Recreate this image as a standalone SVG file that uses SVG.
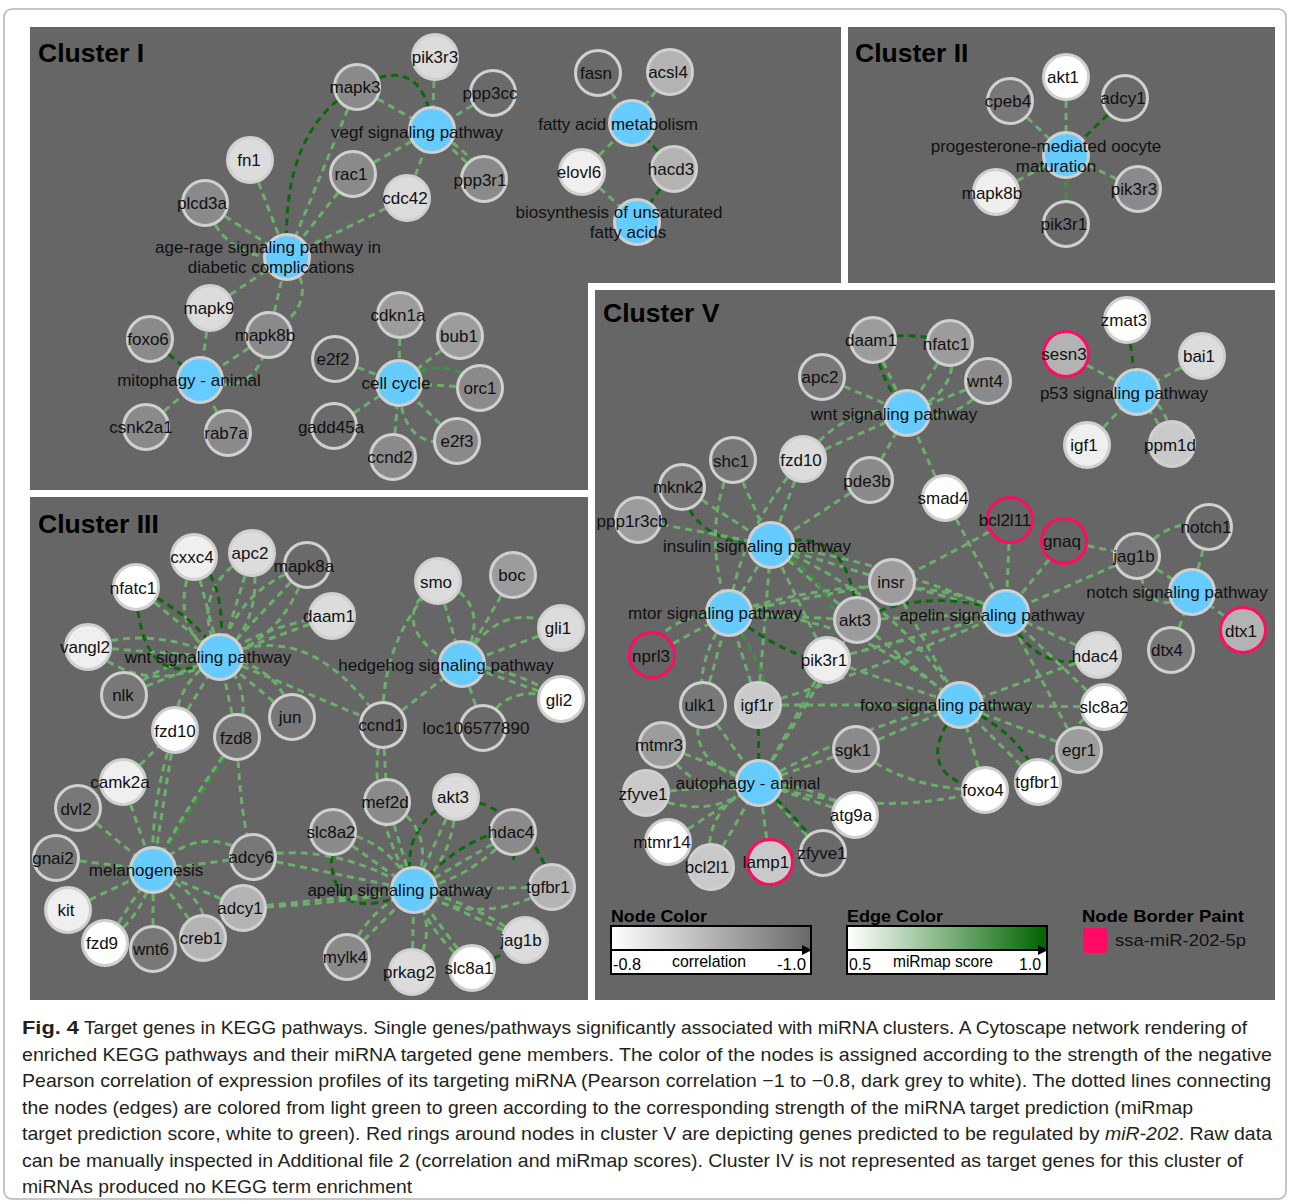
<svg xmlns="http://www.w3.org/2000/svg" width="1290" height="1204" viewBox="0 0 1290 1204">
<defs>
<style>
.panel{fill:#666666}
.title{font-family:'Liberation Sans',Arial,sans-serif;font-weight:bold;font-size:26.5px;fill:#000}
.node circle{stroke:#d0d0d0;stroke-width:3}
.node.red circle{stroke:#ff0a64;stroke-width:3}
.node text{font-family:'Liberation Sans',Arial,sans-serif;font-size:17px;text-anchor:middle;fill:#111}
.pw{fill:#66ccff}
.g0{fill:#ffffff}.g1{fill:#efefef}.g2{fill:#dcdcdc}.g3{fill:#c9c9c9}.g4{fill:#b3b3b3}.g5{fill:#9c9c9c}.g6{fill:#8a8a8a}.g7{fill:#787878}.g8{fill:#6a6a6a}.gd{fill:#666666}
#edges path{fill:none;stroke-width:3;stroke-dasharray:7 5}
#edges .l{stroke:#6cae6c}
#edges .m{stroke:#3f923f}
#edges .d{stroke:#0a6a0a}
.cap{font-family:'Liberation Sans',Arial,sans-serif;font-size:19px;fill:#231f20}
.lg{font-family:'Liberation Sans',Arial,sans-serif;fill:#000}
</style>
<linearGradient id="gradGray" x1="0" y1="0" x2="1" y2="0"><stop offset="0" stop-color="#ffffff"/><stop offset="1" stop-color="#6a6a6a"/></linearGradient>
<linearGradient id="gradGreen" x1="0" y1="0" x2="1" y2="0"><stop offset="0" stop-color="#ffffff"/><stop offset="1" stop-color="#006400"/></linearGradient>
<marker id="arr" markerWidth="10" markerHeight="10" refX="8" refY="5" orient="auto" markerUnits="userSpaceOnUse"><path d="M0,0L10,5L0,10Z" fill="#000"/></marker>
</defs>
<rect x="0" y="0" width="1290" height="1204" fill="#ffffff"/>
<rect x="4" y="9" width="1282" height="1190" rx="8" fill="#ffffff" stroke="#b4b4b4" stroke-width="1.5"/>
<g id="panels">
<rect class="panel" x="30" y="27" width="811" height="463"/>
<rect class="panel" x="848" y="27" width="427" height="256"/>
<rect class="panel" x="30" y="497" width="558" height="503"/>
<rect x="588" y="283" width="694" height="717" fill="#ffffff"/>
<rect class="panel" x="595" y="290" width="680" height="710"/>
<text class="title" x="38" y="62">Cluster I</text>
<text class="title" x="855" y="62">Cluster II</text>
<text class="title" x="38" y="533">Cluster III</text>
<text class="title" x="603" y="322">Cluster V</text>
</g>
<g id="edges">
<!-- Cluster I -->
<path class="l" d="M435,57L432,130"/>
<path class="d" d="M357,87Q425,50 432,130"/>
<path class="l" d="M357,87L432,130"/>
<path class="l" d="M493,93L432,130"/>
<path class="l" d="M353,174L432,130"/>
<path class="l" d="M484,179L432,130"/>
<path class="l" d="M432,130Q470,150 484,179"/>
<path class="l" d="M407,198L432,130"/>
<path class="l" d="M250,160L287,257"/>
<path class="l" d="M205,203L287,257"/>
<path class="d" d="M357,87Q280,130 287,257"/>
<path class="l" d="M357,87L287,257"/>
<path class="l" d="M353,174L287,257"/>
<path class="l" d="M407,198L287,257"/>
<path class="l" d="M210,308L287,257"/>
<path class="l" d="M269,335L287,257"/>
<path class="l" d="M287,257Q325,300 269,335"/>
<path class="l" d="M205,203Q225,262 287,257"/>
<path class="d" d="M150,339L200,380"/>
<path class="l" d="M210,308L200,380"/>
<path class="l" d="M269,335L200,380"/>
<path class="l" d="M200,380Q258,400 269,335"/>
<path class="l" d="M146,427L200,380"/>
<path class="l" d="M228,433L200,380"/>
<path class="l" d="M400,315L399,383"/>
<path class="l" d="M460,336L399,383"/>
<path class="l" d="M335,359L399,383"/>
<path class="l" d="M480,388L399,383"/>
<path class="m" d="M399,383Q445,350 480,388"/>
<path class="l" d="M334,426L399,383"/>
<path class="l" d="M393,457L399,383"/>
<path class="l" d="M457,441L399,383"/>
<path class="l" d="M399,383Q400,452 457,441"/>
<path class="l" d="M598,73L632,123"/>
<path class="l" d="M670,72L632,123"/>
<path class="l" d="M582,172L632,123"/>
<path class="d" d="M674,169L632,123"/>
<path class="l" d="M582,172L637,222"/>
<path class="d" d="M674,169L637,222"/>
<!-- Cluster II -->
<path class="l" d="M1066,77L1066,155"/>
<path class="l" d="M1010,101L1066,155"/>
<path class="d" d="M1125,98L1066,155"/>
<path class="l" d="M996,192L1066,155"/>
<path class="l" d="M1138,189L1066,155"/>
<path class="m" d="M1066,224L1066,155"/>
<!-- Cluster III wnt -->
<path class="l" d="M194,557L220,657"/>
<path class="l" d="M252,553L220,657"/>
<path class="l" d="M307,565L220,657"/>
<path class="l" d="M136,587L220,657"/>
<path class="l" d="M332,616L220,657"/>
<path class="l" d="M88,647L220,657"/>
<path class="l" d="M124,695L220,657"/>
<path class="l" d="M292,717L220,657"/>
<path class="l" d="M175,730L220,657"/>
<path class="l" d="M237,737L220,657"/>
<path class="l" d="M194,557Q165,630 220,657"/>
<path class="l" d="M252,553Q185,590 220,657"/>
<path class="l" d="M307,565Q235,590 220,657"/>
<path class="l" d="M252,553Q265,620 220,657"/>
<path class="l" d="M307,565Q285,640 220,657"/>
<path class="l" d="M332,616Q265,625 220,657"/>
<path class="l" d="M88,647Q150,625 220,657"/>
<path class="l" d="M124,695Q170,655 220,657"/>
<path class="l" d="M175,730Q175,680 220,657"/>
<path class="l" d="M237,737Q255,690 220,657"/>
<path class="l" d="M292,717Q280,665 220,657"/>
<path class="l" d="M88,647Q150,700 220,657"/>
<path class="d" d="M136,587Q140,700 220,657"/>
<path class="d" d="M136,587Q195,615 220,657"/>
<path class="d" d="M194,557Q228,580 220,657"/>
<path class="l" d="M220,657L383,725"/>
<path class="l" d="M220,657Q310,615 383,725"/>
<!-- hedgehog -->
<path class="l" d="M438,581L462,664"/>
<path class="l" d="M513,575L462,664"/>
<path class="l" d="M561,628L462,664"/>
<path class="l" d="M561,699L462,664"/>
<path class="l" d="M383,725L462,664"/>
<path class="l" d="M483,728L462,664"/>
<path class="l" d="M438,581Q385,620 445,660"/>
<path class="l" d="M438,581Q495,600 462,664"/>
<path class="l" d="M462,664Q500,595 561,628"/>
<path class="l" d="M462,664Q520,670 561,699"/>
<path class="l" d="M483,728Q505,680 561,699"/>
<path class="l" d="M383,725Q380,640 438,581"/>
<!-- melanogenesis -->
<path class="l" d="M123,782L153,870"/>
<path class="l" d="M78,808L153,870"/>
<path class="l" d="M56,858L153,870"/>
<path class="l" d="M253,857L153,870"/>
<path class="l" d="M243,908L153,870"/>
<path class="l" d="M68,910L153,870"/>
<path class="l" d="M105,943L153,870"/>
<path class="l" d="M153,949L153,870"/>
<path class="l" d="M203,938L153,870"/>
<path class="l" d="M175,730L153,870"/>
<path class="l" d="M175,730Q150,800 153,870"/>
<path class="m" d="M237,737L153,870"/>
<path class="l" d="M237,737Q190,800 153,870"/>
<path class="l" d="M237,737Q240,820 253,857"/>
<path class="l" d="M253,857Q200,820 153,870"/>
<path class="l" d="M105,943Q145,915 153,870"/>
<path class="l" d="M203,938Q215,900 153,870"/>
<path class="l" d="M123,782L175,730"/>
<!-- apelin III -->
<path class="l" d="M387,802L414,890"/>
<path class="l" d="M456,797L414,890"/>
<path class="l" d="M333,832L414,890"/>
<path class="l" d="M513,832L414,890"/>
<path class="l" d="M552,887L414,890"/>
<path class="l" d="M525,940L414,890"/>
<path class="l" d="M347,957L414,890"/>
<path class="l" d="M412,972L414,890"/>
<path class="l" d="M472,968L414,890"/>
<path class="l" d="M253,857L414,890"/>
<path class="l" d="M243,908L414,890"/>
<path class="l" d="M383,725Q362,800 414,890"/>
<path class="l" d="M383,725L387,802"/>
<path class="d" d="M456,797Q395,830 414,890"/>
<path class="d" d="M333,832Q320,935 414,890"/>
<path class="d" d="M414,890Q470,830 513,832"/>
<path class="d" d="M552,887Q535,830 513,832"/>
<path class="d" d="M472,968Q505,955 525,940"/>
<path class="d" d="M456,797Q530,810 513,860"/>
<path class="l" d="M333,832Q385,835 414,890"/>
<path class="l" d="M387,802Q440,830 414,890"/>
<path class="l" d="M456,797Q455,860 414,890"/>
<path class="l" d="M513,832Q470,880 414,890"/>
<path class="l" d="M552,887Q480,930 414,890"/>
<path class="l" d="M525,940Q470,900 414,890"/>
<path class="l" d="M347,957Q370,905 414,890"/>
<path class="l" d="M412,972Q440,930 414,890"/>
<path class="l" d="M472,968Q430,935 414,890"/>
<path class="l" d="M253,857Q330,840 414,890"/>
<path class="l" d="M243,908Q330,905 414,890"/>
<!-- Cluster V wnt -->
<path class="l" d="M873,340L907,413"/>
<path class="d" d="M873,340Q882,385 907,413"/>
<path class="d" d="M873,340Q910,330 950,343"/>
<path class="l" d="M950,343L907,413"/>
<path class="l" d="M950,343Q962,392 907,413"/>
<path class="l" d="M822,377L907,413"/>
<path class="l" d="M988,381L907,413"/>
<path class="l" d="M988,381Q960,425 907,413"/>
<path class="l" d="M803,459L907,413"/>
<path class="l" d="M803,459Q850,400 907,413"/>
<path class="l" d="M945,498L907,413"/>
<path class="l" d="M870,480L907,413"/>
<!-- p53 -->
<path class="d" d="M1127,320L1137,392"/>
<path class="l" d="M1066,354L1137,392"/>
<path class="l" d="M1202,356L1137,392"/>
<path class="l" d="M1087,445L1137,392"/>
<path class="l" d="M1172,444L1137,392"/>
<path class="l" d="M1172,444Q1168,400 1137,392"/>
<!-- insulin -->
<path class="l" d="M733,460L771,545"/>
<path class="l" d="M803,459L771,545"/>
<path class="l" d="M682,487L771,545"/>
<path class="d" d="M682,487Q692,545 771,545"/>
<path class="l" d="M638,520L771,545"/>
<path class="l" d="M870,480L771,545"/>
<path class="l" d="M892,582L771,545"/>
<path class="l" d="M857,620L771,545"/>
<path class="d" d="M771,545Q850,520 857,620"/>
<path class="l" d="M827,660L771,545"/>
<path class="l" d="M758,705L771,545"/>
<path class="l" d="M729,613L771,545"/>
<path class="l" d="M733,460Q700,530 729,613"/>
<path class="l" d="M803,459Q740,530 729,613"/>
<!-- mtor -->
<path class="l" d="M652,655L729,613"/>
<path class="l" d="M729,613Q660,615 652,655"/>
<path class="l" d="M703,705L729,613"/>
<path class="l" d="M758,705L729,613"/>
<path class="l" d="M857,620L729,613"/>
<path class="d" d="M729,613Q790,660 827,660"/>
<path class="l" d="M892,582L729,613"/>
<path class="l" d="M729,613Q695,660 703,705"/>
<!-- notch -->
<path class="l" d="M1209,527L1192,592"/>
<path class="l" d="M1137,556Q1170,515 1209,527"/>
<path class="l" d="M1137,556L1192,592"/>
<path class="l" d="M1243,630L1192,592"/>
<path class="l" d="M1171,650L1192,592"/>
<path class="l" d="M1192,592Q1145,625 1137,556"/>
<path class="l" d="M1064,541L1137,556"/>
<!-- apelin V -->
<path class="l" d="M1010,520L1006,613"/>
<path class="l" d="M1064,541L1006,613"/>
<path class="l" d="M1137,556L1006,613"/>
<path class="l" d="M945,498L1006,613"/>
<path class="l" d="M892,582L1006,613"/>
<path class="l" d="M857,620L1006,613"/>
<path class="l" d="M827,660L1006,613"/>
<path class="d" d="M1006,613Q1040,680 1098,655"/>
<path class="l" d="M1098,655L1006,613"/>
<path class="l" d="M1104,707L1006,613"/>
<path class="l" d="M1079,750L1006,613"/>
<path class="d" d="M857,620Q930,585 1006,613"/>
<path class="l" d="M1010,520Q940,560 892,582"/>
<!-- foxo -->
<path class="l" d="M857,620L960,705"/>
<path class="l" d="M827,660L960,705"/>
<path class="l" d="M856,749L960,705"/>
<path class="l" d="M758,705L960,705"/>
<path class="l" d="M892,582L960,705"/>
<path class="l" d="M1079,750L960,705"/>
<path class="l" d="M1038,782L960,705"/>
<path class="l" d="M985,790L960,705"/>
<path class="l" d="M1104,707L960,705"/>
<path class="l" d="M1098,655L960,705"/>
<path class="d" d="M960,705Q905,775 985,790"/>
<path class="d" d="M960,705Q1025,735 1038,782"/>
<path class="l" d="M856,749Q905,790 985,790"/>
<path class="l" d="M1038,782Q1070,720 1104,707"/>
<!-- autophagy -->
<path class="l" d="M703,705L759,783"/>
<path class="d" d="M758,705L759,783"/>
<path class="l" d="M662,745L759,783"/>
<path class="l" d="M646,793L759,783"/>
<path class="l" d="M668,842L759,783"/>
<path class="l" d="M711,867L759,783"/>
<path class="l" d="M770,862L759,783"/>
<path class="l" d="M823,853L759,783"/>
<path class="l" d="M855,815L759,783"/>
<path class="l" d="M827,660L759,783"/>
<path class="l" d="M857,620L759,783"/>
<path class="l" d="M856,749L759,783"/>
<path class="l" d="M759,783Q870,720 960,705"/>
<path class="l" d="M662,745Q700,805 759,783"/>
<path class="l" d="M703,705Q680,765 759,783"/>
<path class="l" d="M646,793Q705,825 759,783"/>
<path class="d" d="M759,783Q800,820 823,853"/>
<path class="l" d="M855,815Q820,785 759,783"/>
<path class="l" d="M711,867Q700,810 759,783"/>
<!-- inter-pathway -->
<path class="l" d="M771,545Q880,560 1006,613"/>
<path class="l" d="M729,613Q850,610 960,705"/>
<path class="l" d="M771,545Q900,600 960,705"/>
<path class="l" d="M729,613Q900,560 1006,613"/>
<path class="l" d="M827,660Q905,640 1006,613"/>
<path class="m" d="M771,545Q860,600 827,660"/>
<path class="l" d="M758,705Q850,680 1006,613"/>
<path class="l" d="M759,783Q880,820 985,790"/>
<path class="m" d="M729,613Q780,690 758,705"/>
</g>
<g id="nodes">
<!-- Cluster I -->
<g id="c1-pik3r3" class="node"><circle cx="435" cy="57" r="22.5" class="g2"/><text x="435" y="63">pik3r3</text></g>
<g id="c1-mapk3" class="node"><circle cx="357" cy="87" r="22.5" class="g6"/><text x="355" y="93">mapk3</text></g>
<g id="c1-ppp3cc" class="node"><circle cx="493" cy="93" r="22.5" class="g8"/><text x="490" y="99">ppp3cc</text></g>
<g id="c1-fn1" class="node"><circle cx="250" cy="160" r="22.5" class="g2"/><text x="249" y="166">fn1</text></g>
<g id="c1-rac1" class="node"><circle cx="353" cy="174" r="22.5" class="g6"/><text x="351" y="180">rac1</text></g>
<g id="c1-ppp3r1" class="node"><circle cx="484" cy="179" r="22.5" class="g6"/><text x="480" y="186">ppp3r1</text></g>
<g id="c1-cdc42" class="node"><circle cx="407" cy="198" r="22.5" class="g2"/><text x="405" y="204">cdc42</text></g>
<g id="c1-plcd3a" class="node"><circle cx="205" cy="203" r="22.5" class="g6"/><text x="202" y="209">plcd3a</text></g>
<g id="c1-mapk9" class="node"><circle cx="210" cy="308" r="22.5" class="g2"/><text x="209" y="314">mapk9</text></g>
<g id="c1-mapk8b" class="node"><circle cx="269" cy="335" r="22.5" class="g6"/><text x="265" y="341">mapk8b</text></g>
<g id="c1-foxo6" class="node"><circle cx="150" cy="339" r="22.5" class="g6"/><text x="148" y="345">foxo6</text></g>
<g id="c1-csnk2a1" class="node"><circle cx="146" cy="427" r="22.5" class="g6"/><text x="141" y="433">csnk2a1</text></g>
<g id="c1-rab7a" class="node"><circle cx="228" cy="433" r="22.5" class="g6"/><text x="226" y="439">rab7a</text></g>
<g id="c1-cdkn1a" class="node"><circle cx="400" cy="315" r="22.5" class="g5"/><text x="398" y="321">cdkn1a</text></g>
<g id="c1-bub1" class="node"><circle cx="460" cy="336" r="22.5" class="g5"/><text x="459" y="342">bub1</text></g>
<g id="c1-e2f2" class="node"><circle cx="335" cy="359" r="22.5" class="g8"/><text x="333" y="365">e2f2</text></g>
<g id="c1-orc1" class="node"><circle cx="480" cy="388" r="22.5" class="g6"/><text x="480" y="394">orc1</text></g>
<g id="c1-gadd45a" class="node"><circle cx="334" cy="426" r="22.5" class="g8"/><text x="331" y="433">gadd45a</text></g>
<g id="c1-ccnd2" class="node"><circle cx="393" cy="457" r="22.5" class="g6"/><text x="390" y="463">ccnd2</text></g>
<g id="c1-e2f3" class="node"><circle cx="457" cy="441" r="22.5" class="g6"/><text x="457" y="447">e2f3</text></g>
<g id="c1-fasn" class="node"><circle cx="598" cy="73" r="22.5" class="g8"/><text x="596" y="79">fasn</text></g>
<g id="c1-acsl4" class="node"><circle cx="670" cy="72" r="22.5" class="g4"/><text x="668" y="78">acsl4</text></g>
<g id="c1-elovl6" class="node"><circle cx="582" cy="172" r="22.5" class="g1"/><text x="579" y="178">elovl6</text></g>
<g id="c1-hacd3" class="node"><circle cx="674" cy="169" r="22.5" class="g4"/><text x="671" y="175">hacd3</text></g>
<g id="c1-vegf" class="node"><circle cx="432" cy="130" r="22.5" class="pw"/><text x="417" y="138">vegf signaling pathway</text></g>
<g id="c1-agerage" class="node"><circle cx="287" cy="257" r="22.5" class="pw"/><text x="268" y="253">age-rage signaling pathway in</text><text x="271" y="273">diabetic complications</text></g>
<g id="c1-mitophagy" class="node"><circle cx="200" cy="380" r="22.5" class="pw"/><text x="189" y="386">mitophagy - animal</text></g>
<g id="c1-cellcycle" class="node"><circle cx="399" cy="383" r="22.5" class="pw"/><text x="396" y="389">cell cycle</text></g>
<g id="c1-fam" class="node"><circle cx="632" cy="123" r="22.5" class="pw"/><text x="618" y="130">fatty acid metabolism</text></g>
<g id="c1-bio" class="node"><circle cx="637" cy="222" r="22.5" class="pw"/><text x="619" y="218">biosynthesis of unsaturated</text><text x="628" y="238">fatty acids</text></g>
<!-- Cluster II -->
<g id="c2-akt1" class="node"><circle cx="1066" cy="77" r="22.5" class="g0"/><text x="1063" y="83">akt1</text></g>
<g id="c2-cpeb4" class="node"><circle cx="1010" cy="101" r="22.5" class="g7"/><text x="1008" y="107">cpeb4</text></g>
<g id="c2-adcy1" class="node"><circle cx="1125" cy="98" r="22.5" class="g8"/><text x="1123" y="104">adcy1</text></g>
<g id="c2-mapk8b" class="node"><circle cx="996" cy="192" r="22.5" class="g1"/><text x="992" y="199">mapk8b</text></g>
<g id="c2-pik3r3" class="node"><circle cx="1138" cy="189" r="22.5" class="g6"/><text x="1134" y="195">pik3r3</text></g>
<g id="c2-pik3r1" class="node"><circle cx="1066" cy="224" r="22.5" class="g8"/><text x="1064" y="230">pik3r1</text></g>
<g id="c2-progesterone" class="node"><circle cx="1066" cy="155" r="22.5" class="pw"/><text x="1046" y="152">progesterone-mediated oocyte</text><text x="1056" y="172">maturation</text></g>
<!-- Cluster III -->
<g id="c3-cxxc4" class="node"><circle cx="194" cy="557" r="22.5" class="g1"/><text x="192" y="563">cxxc4</text></g>
<g id="c3-apc2" class="node"><circle cx="252" cy="553" r="22.5" class="g2"/><text x="250" y="559">apc2</text></g>
<g id="c3-mapk8a" class="node"><circle cx="307" cy="565" r="22.5" class="g8"/><text x="304" y="572">mapk8a</text></g>
<g id="c3-nfatc1" class="node"><circle cx="136" cy="587" r="22.5" class="g0"/><text x="133" y="594">nfatc1</text></g>
<g id="c3-daam1" class="node"><circle cx="332" cy="616" r="22.5" class="g2"/><text x="329" y="622">daam1</text></g>
<g id="c3-vangl2" class="node"><circle cx="88" cy="647" r="22.5" class="g1"/><text x="85" y="653">vangl2</text></g>
<g id="c3-nlk" class="node"><circle cx="124" cy="695" r="22.5" class="g7"/><text x="123" y="701">nlk</text></g>
<g id="c3-jun" class="node"><circle cx="292" cy="717" r="22.5" class="g7"/><text x="290" y="723">jun</text></g>
<g id="c3-fzd10" class="node"><circle cx="175" cy="730" r="22.5" class="g0"/><text x="175" y="737">fzd10</text></g>
<g id="c3-fzd8" class="node"><circle cx="237" cy="737" r="22.5" class="g7"/><text x="236" y="744">fzd8</text></g>
<g id="c3-smo" class="node"><circle cx="438" cy="581" r="22.5" class="g2"/><text x="436" y="588">smo</text></g>
<g id="c3-boc" class="node"><circle cx="513" cy="575" r="22.5" class="g5"/><text x="512" y="581">boc</text></g>
<g id="c3-gli1" class="node"><circle cx="561" cy="628" r="22.5" class="g2"/><text x="558" y="634">gli1</text></g>
<g id="c3-gli2" class="node"><circle cx="561" cy="699" r="22.5" class="g0"/><text x="559" y="706">gli2</text></g>
<g id="c3-ccnd1" class="node"><circle cx="383" cy="725" r="22.5" class="g8"/><text x="381" y="731">ccnd1</text></g>
<g id="c3-loc106577890" class="node"><circle cx="483" cy="728" r="22.5" class="g8"/><text x="476" y="734">loc106577890</text></g>
<g id="c3-camk2a" class="node"><circle cx="123" cy="782" r="22.5" class="g1"/><text x="120" y="788">camk2a</text></g>
<g id="c3-dvl2" class="node"><circle cx="78" cy="808" r="22.5" class="g7"/><text x="76" y="815">dvl2</text></g>
<g id="c3-gnai2" class="node"><circle cx="56" cy="858" r="22.5" class="g7"/><text x="53" y="864">gnai2</text></g>
<g id="c3-adcy6" class="node"><circle cx="253" cy="857" r="22.5" class="g7"/><text x="251" y="863">adcy6</text></g>
<g id="c3-adcy1" class="node"><circle cx="243" cy="908" r="22.5" class="g4"/><text x="240" y="914">adcy1</text></g>
<g id="c3-kit" class="node"><circle cx="68" cy="910" r="22.5" class="g1"/><text x="66" y="916">kit</text></g>
<g id="c3-fzd9" class="node"><circle cx="105" cy="943" r="22.5" class="g0"/><text x="102" y="949">fzd9</text></g>
<g id="c3-wnt6" class="node"><circle cx="153" cy="949" r="22.5" class="g7"/><text x="151" y="955">wnt6</text></g>
<g id="c3-creb1" class="node"><circle cx="203" cy="938" r="22.5" class="g4"/><text x="201" y="944">creb1</text></g>
<g id="c3-mef2d" class="node"><circle cx="387" cy="802" r="22.5" class="g6"/><text x="385" y="808">mef2d</text></g>
<g id="c3-akt3" class="node"><circle cx="456" cy="797" r="22.5" class="g2"/><text x="453" y="803">akt3</text></g>
<g id="c3-slc8a2" class="node"><circle cx="333" cy="832" r="22.5" class="g6"/><text x="331" y="838">slc8a2</text></g>
<g id="c3-hdac4" class="node"><circle cx="513" cy="832" r="22.5" class="g6"/><text x="511" y="838">hdac4</text></g>
<g id="c3-tgfbr1" class="node"><circle cx="552" cy="887" r="22.5" class="g4"/><text x="548" y="893">tgfbr1</text></g>
<g id="c3-jag1b" class="node"><circle cx="525" cy="940" r="22.5" class="g2"/><text x="521" y="946">jag1b</text></g>
<g id="c3-mylk4" class="node"><circle cx="347" cy="957" r="22.5" class="g6"/><text x="345" y="963">mylk4</text></g>
<g id="c3-prkag2" class="node"><circle cx="412" cy="972" r="22.5" class="g2"/><text x="409" y="978">prkag2</text></g>
<g id="c3-slc8a1" class="node"><circle cx="472" cy="968" r="22.5" class="g0"/><text x="469" y="974">slc8a1</text></g>
<g id="c3-wnt" class="node"><circle cx="220" cy="657" r="22.5" class="pw"/><text x="208" y="663">wnt signaling pathway</text></g>
<g id="c3-hedgehog" class="node"><circle cx="462" cy="664" r="22.5" class="pw"/><text x="446" y="671">hedgehog signaling pathway</text></g>
<g id="c3-melanogenesis" class="node"><circle cx="153" cy="870" r="22.5" class="pw"/><text x="146" y="876">melanogenesis</text></g>
<g id="c3-apelin" class="node"><circle cx="414" cy="890" r="22.5" class="pw"/><text x="400" y="896">apelin signaling pathway</text></g>
<!-- Cluster V -->
<g id="c5-daam1" class="node"><circle cx="873" cy="340" r="22.5" class="g5"/><text x="871" y="346">daam1</text></g>
<g id="c5-nfatc1" class="node"><circle cx="950" cy="343" r="22.5" class="g5"/><text x="946" y="350">nfatc1</text></g>
<g id="c5-apc2" class="node"><circle cx="822" cy="377" r="22.5" class="g7"/><text x="820" y="383">apc2</text></g>
<g id="c5-wnt4" class="node"><circle cx="988" cy="381" r="22.5" class="g6"/><text x="985" y="387">wnt4</text></g>
<g id="c5-zmat3" class="node"><circle cx="1127" cy="320" r="22.5" class="g0"/><text x="1124" y="326">zmat3</text></g>
<g id="c5-sesn3" class="node red"><circle cx="1066" cy="354" r="22.5" class="g4"/><text x="1064" y="360">sesn3</text></g>
<g id="c5-bai1" class="node"><circle cx="1202" cy="356" r="22.5" class="g2"/><text x="1199" y="362">bai1</text></g>
<g id="c5-igf1" class="node"><circle cx="1087" cy="445" r="22.5" class="g1"/><text x="1084" y="451">igf1</text></g>
<g id="c5-ppm1d" class="node"><circle cx="1172" cy="444" r="22.5" class="g3"/><text x="1170" y="451">ppm1d</text></g>
<g id="c5-shc1" class="node"><circle cx="733" cy="460" r="22.5" class="g7"/><text x="731" y="467">shc1</text></g>
<g id="c5-fzd10" class="node"><circle cx="803" cy="459" r="22.5" class="g2"/><text x="801" y="466">fzd10</text></g>
<g id="c5-mknk2" class="node"><circle cx="682" cy="487" r="22.5" class="g7"/><text x="678" y="493">mknk2</text></g>
<g id="c5-pde3b" class="node"><circle cx="870" cy="480" r="22.5" class="g6"/><text x="867" y="487">pde3b</text></g>
<g id="c5-smad4" class="node"><circle cx="945" cy="498" r="22.5" class="g0"/><text x="943" y="504">smad4</text></g>
<g id="c5-bcl2l11" class="node red"><circle cx="1010" cy="520" r="22.5" class="gd"/><text x="1005" y="526">bcl2l11</text></g>
<g id="c5-gnaq" class="node red"><circle cx="1064" cy="541" r="22.5" class="gd"/><text x="1062" y="547">gnaq</text></g>
<g id="c5-ppp1r3cb" class="node"><circle cx="638" cy="520" r="22.5" class="g5"/><text x="632" y="527">ppp1r3cb</text></g>
<g id="c5-notch1" class="node"><circle cx="1209" cy="527" r="22.5" class="g8"/><text x="1206" y="533">notch1</text></g>
<g id="c5-jag1b" class="node"><circle cx="1137" cy="556" r="22.5" class="g7"/><text x="1134" y="562">jag1b</text></g>
<g id="c5-insr" class="node"><circle cx="892" cy="582" r="22.5" class="g5"/><text x="891" y="588">insr</text></g>
<g id="c5-akt3" class="node"><circle cx="857" cy="620" r="22.5" class="g5"/><text x="855" y="626">akt3</text></g>
<g id="c5-dtx1" class="node red"><circle cx="1243" cy="630" r="22.5" class="g4"/><text x="1241" y="637">dtx1</text></g>
<g id="c5-nprl3" class="node red"><circle cx="652" cy="655" r="22.5" class="gd"/><text x="651" y="662">nprl3</text></g>
<g id="c5-pik3r1" class="node"><circle cx="827" cy="660" r="22.5" class="g1"/><text x="824" y="666">pik3r1</text></g>
<g id="c5-hdac4" class="node"><circle cx="1098" cy="655" r="22.5" class="g2"/><text x="1095" y="662">hdac4</text></g>
<g id="c5-dtx4" class="node"><circle cx="1171" cy="650" r="22.5" class="g7"/><text x="1167" y="656">dtx4</text></g>
<g id="c5-ulk1" class="node"><circle cx="703" cy="705" r="22.5" class="g7"/><text x="700" y="711">ulk1</text></g>
<g id="c5-igf1r" class="node"><circle cx="758" cy="705" r="22.5" class="g3"/><text x="757" y="711">igf1r</text></g>
<g id="c5-slc8a2" class="node"><circle cx="1104" cy="707" r="22.5" class="g0"/><text x="1104" y="713">slc8a2</text></g>
<g id="c5-mtmr3" class="node"><circle cx="662" cy="745" r="22.5" class="g5"/><text x="659" y="751">mtmr3</text></g>
<g id="c5-sgk1" class="node"><circle cx="856" cy="749" r="22.5" class="g6"/><text x="853" y="756">sgk1</text></g>
<g id="c5-egr1" class="node"><circle cx="1079" cy="750" r="22.5" class="g5"/><text x="1079" y="756">egr1</text></g>
<g id="c5-zfyve1" class="node"><circle cx="646" cy="793" r="22.5" class="g3"/><text x="643" y="800">zfyve1</text></g>
<g id="c5-foxo4" class="node"><circle cx="985" cy="790" r="22.5" class="g0"/><text x="983" y="796">foxo4</text></g>
<g id="c5-tgfbr1" class="node"><circle cx="1038" cy="782" r="22.5" class="g0"/><text x="1037" y="788">tgfbr1</text></g>
<g id="c5-atg9a" class="node"><circle cx="855" cy="815" r="22.5" class="g0"/><text x="851" y="821">atg9a</text></g>
<g id="c5-mtmr14" class="node"><circle cx="668" cy="842" r="22.5" class="g0"/><text x="662" y="848">mtmr14</text></g>
<g id="c5-zfyve1b" class="node"><circle cx="823" cy="853" r="22.5" class="g8"/><text x="822" y="859">zfyve1</text></g>
<g id="c5-bcl2l1" class="node"><circle cx="711" cy="867" r="22.5" class="g3"/><text x="707" y="873">bcl2l1</text></g>
<g id="c5-lamp1" class="node red"><circle cx="770" cy="862" r="22.5" class="g3"/><text x="766" y="868">lamp1</text></g>
<g id="c5-wnt" class="node"><circle cx="907" cy="413" r="22.5" class="pw"/><text x="894" y="420">wnt signaling pathway</text></g>
<g id="c5-p53" class="node"><circle cx="1137" cy="392" r="22.5" class="pw"/><text x="1124" y="399">p53 signaling pathway</text></g>
<g id="c5-insulin" class="node"><circle cx="771" cy="545" r="22.5" class="pw"/><text x="757" y="552">insulin signaling pathway</text></g>
<g id="c5-notch" class="node"><circle cx="1192" cy="592" r="22.5" class="pw"/><text x="1177" y="598">notch signaling pathway</text></g>
<g id="c5-mtor" class="node"><circle cx="729" cy="613" r="22.5" class="pw"/><text x="715" y="619">mtor signaling pathway</text></g>
<g id="c5-apelin" class="node"><circle cx="1006" cy="613" r="22.5" class="pw"/><text x="992" y="621">apelin signaling pathway</text></g>
<g id="c5-foxo" class="node"><circle cx="960" cy="705" r="22.5" class="pw"/><text x="946" y="711">foxo signaling pathway</text></g>
<g id="c5-autophagy" class="node"><circle cx="759" cy="783" r="22.5" class="pw"/><text x="748" y="789">autophagy - animal</text></g>
</g>
<g id="legend">
<text class="lg" x="611" y="922" font-size="17" font-weight="bold" textLength="96" lengthAdjust="spacingAndGlyphs">Node Color</text>
<rect x="611" y="926" width="200" height="48" fill="#ffffff" stroke="#000" stroke-width="2"/>
<rect x="612" y="927" width="198" height="23" fill="url(#gradGray)"/>
<line x1="612" y1="950" x2="810" y2="950" stroke="#000" stroke-width="2" marker-end="url(#arr)"/>
<text class="lg" x="613" y="970" font-size="17" textLength="28" lengthAdjust="spacingAndGlyphs">-0.8</text>
<text class="lg" x="672" y="967" font-size="17" textLength="74" lengthAdjust="spacingAndGlyphs">correlation</text>
<text class="lg" x="777" y="970" font-size="17" textLength="29" lengthAdjust="spacingAndGlyphs">-1.0</text>
<text class="lg" x="847" y="922" font-size="17" font-weight="bold" textLength="96" lengthAdjust="spacingAndGlyphs">Edge Color</text>
<rect x="847" y="926" width="200" height="48" fill="#ffffff" stroke="#000" stroke-width="2"/>
<rect x="848" y="927" width="198" height="23" fill="url(#gradGreen)"/>
<line x1="848" y1="950" x2="1046" y2="950" stroke="#000" stroke-width="2" marker-end="url(#arr)"/>
<text class="lg" x="849" y="970" font-size="17" textLength="22" lengthAdjust="spacingAndGlyphs">0.5</text>
<text class="lg" x="893" y="967" font-size="17" textLength="100" lengthAdjust="spacingAndGlyphs">miRmap score</text>
<text class="lg" x="1019" y="970" font-size="17" textLength="22" lengthAdjust="spacingAndGlyphs">1.0</text>
<text class="lg" x="1082" y="922" font-size="17" font-weight="bold" textLength="162" lengthAdjust="spacingAndGlyphs">Node Border Paint</text>
<rect x="1083" y="928" width="24" height="25" rx="3" fill="#ff0a64"/>
<text x="1115" y="946" font-family="Liberation Sans, Arial, sans-serif" font-size="17" fill="#111" textLength="131" lengthAdjust="spacingAndGlyphs">ssa-miR-202-5p</text>
</g>
<g id="caption">
<text class="cap" x="22" y="1034" font-weight="bold" textLength="57" lengthAdjust="spacingAndGlyphs">Fig. 4</text>
<text class="cap" x="84" y="1034" textLength="1163" lengthAdjust="spacingAndGlyphs">Target genes in KEGG pathways. Single genes/pathways significantly associated with miRNA clusters. A Cytoscape network rendering of</text>
<text class="cap" x="22" y="1061" textLength="1250" lengthAdjust="spacingAndGlyphs">enriched KEGG pathways and their miRNA targeted gene members. The color of the nodes is assigned according to the strength of the negative</text>
<text class="cap" x="22" y="1087" textLength="1249" lengthAdjust="spacingAndGlyphs">Pearson correlation of expression profiles of its targeting miRNA (Pearson correlation −1 to −0.8, dark grey to white). The dotted lines connecting</text>
<text class="cap" x="22" y="1114" textLength="1171" lengthAdjust="spacingAndGlyphs">the nodes (edges) are colored from light green to green according to the corresponding strength of the miRNA target prediction (miRmap</text>
<text class="cap" x="22" y="1140" textLength="1250" lengthAdjust="spacingAndGlyphs">target prediction score, white to green). Red rings around nodes in cluster V are depicting genes predicted to be regulated by <tspan font-style="italic">miR-202</tspan>. Raw data</text>
<text class="cap" x="22" y="1167" textLength="1221" lengthAdjust="spacingAndGlyphs">can be manually inspected in Additional file 2 (correlation and miRmap scores). Cluster IV is not represented as target genes for this cluster of</text>
<text class="cap" x="22" y="1193" textLength="390" lengthAdjust="spacingAndGlyphs">miRNAs produced no KEGG term enrichment</text>
</g>
</svg>
